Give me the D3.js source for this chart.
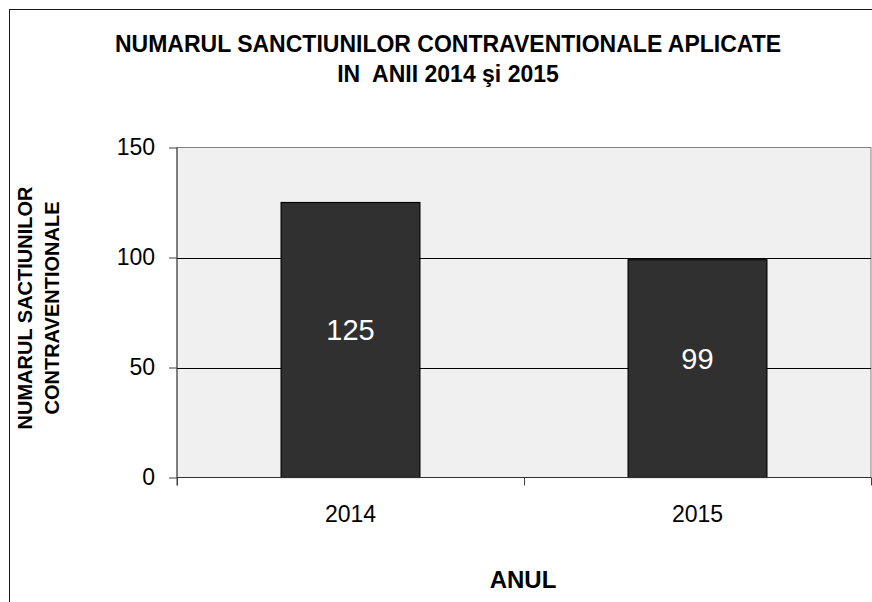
<!DOCTYPE html>
<html>
<head>
<meta charset="utf-8">
<script src="https://cdn.jsdelivr.net/npm/d3@7"></script>
<style>
  html, body { margin: 0; padding: 0; background: #fff; }
  svg { display: block; font-family: "Liberation Sans", Arial, sans-serif; }
</style>
</head>
<body>
<svg id="chart" width="872" height="602"></svg>
<script>
const categories = ["2014", "2015"];
const values = [125, 99];
const yTicks = [0, 50, 100, 150];
const titleLines = ["NUMARUL SANCTIUNILOR CONTRAVENTIONALE APLICATE", "IN  ANII 2014 şi 2015"];
const yTitleLines = ["NUMARUL SACTIUNILOR", "CONTRAVENTIONALE"];
const xTitle = "ANUL";

const svg = d3.select("#chart");
const plot = { left: 177, top: 147.5, right: 871, bottom: 477.5 };

// outer chart border
svg.append("rect").attr("x", 9.5).attr("y", 9.5).attr("width", 900).attr("height", 700)
  .attr("fill", "#fff").attr("stroke", "#1a1a1a").attr("stroke-width", 1);

const x = d3.scaleBand().domain(categories).range([plot.left, plot.right])
  .paddingInner(0.6).paddingOuter(0.3);
const y = d3.scaleLinear().domain([0, 150]).range([plot.bottom, plot.top]);

// plot area
svg.append("rect").attr("x", plot.left).attr("y", plot.top)
  .attr("width", plot.right - plot.left).attr("height", plot.bottom - plot.top)
  .attr("fill", "#f0f0f0").attr("stroke", "#808080").attr("stroke-width", 1);

// gridlines
svg.append("g").selectAll("line").data(yTicks.filter(d => d > 0 && d < 150)).join("line")
  .attr("x1", plot.left).attr("x2", plot.right)
  .attr("y1", d => Math.round(y(d)) + 0.5).attr("y2", d => Math.round(y(d)) + 0.5)
  .attr("stroke", "#000").attr("stroke-width", 1);

// bars
svg.append("g").selectAll("rect").data(values).join("rect")
  .attr("x", (d, i) => x(categories[i]))
  .attr("y", d => y(d))
  .attr("width", x.bandwidth())
  .attr("height", d => y(0) - y(d))
  .attr("fill", "#303030").attr("stroke", "#000").attr("stroke-width", 1.2);

// bar labels
svg.append("g").selectAll("text").data(values).join("text")
  .attr("x", (d, i) => x(categories[i]) + x.bandwidth() / 2)
  .attr("y", d => (y(d) + y(0)) / 2 - 10)
  .attr("text-anchor", "middle")
  .attr("dy", "0.35em")
  .attr("fill", "#fff").attr("font-size", 29)
  .text(d => d);

// y axis
const yAxis = d3.axisLeft(y).tickValues(yTicks).tickSize(8).tickPadding(14).tickFormat(d3.format("d"));
const gy = svg.append("g").attr("transform", `translate(${plot.left},0)`).call(yAxis);
gy.select(".domain").attr("stroke", "#404040").attr("d", `M0,${plot.top}V${plot.bottom + 8}`);
gy.selectAll(".tick line").attr("stroke", "#404040");
gy.selectAll(".tick text").attr("font-size", 23).attr("fill", "#000")
  .attr("font-family", "Liberation Sans, Arial, sans-serif");

// x axis
const xAxis = d3.axisBottom(x).tickSize(0).tickPadding(28);
const gx = svg.append("g").attr("transform", `translate(0,${plot.bottom})`).call(xAxis);
gx.select(".domain").attr("stroke", "#303030").attr("d", `M${plot.left},0H${plot.right}`);
gx.selectAll(".tick text").attr("font-size", 23).attr("fill", "#000")
  .attr("font-family", "Liberation Sans, Arial, sans-serif");
// category boundary ticks
const bounds = [plot.left, (x(categories[0]) + x.bandwidth() + x(categories[1])) / 2, plot.right - 0.5];
svg.append("g").selectAll("line").data(bounds).join("line")
  .attr("x1", d => Math.round(d) + 0.5).attr("x2", d => Math.round(d) + 0.5)
  .attr("y1", plot.bottom).attr("y2", plot.bottom + 8)
  .attr("stroke", "#404040");

// title
svg.append("g").selectAll("text").data(titleLines).join("text")
  .attr("x", 448).attr("y", (d, i) => 52 + i * 30)
  .attr("text-anchor", "middle")
  .attr("font-size", 23).attr("font-weight", "bold")
  .style("white-space", "pre")
  .text(d => d);

// y title
svg.append("g").selectAll("text").data(yTitleLines).join("text")
  .attr("transform", (d, i) => `translate(${32 + i * 27},308) rotate(-90)`)
  .attr("text-anchor", "middle")
  .attr("font-size", 20).attr("font-weight", "bold")
  .text(d => d);

// x title
svg.append("text").attr("x", 523).attr("y", 588)
  .attr("text-anchor", "middle")
  .attr("font-size", 24).attr("font-weight", "bold")
  .text(xTitle);
</script>
</body>
</html>
